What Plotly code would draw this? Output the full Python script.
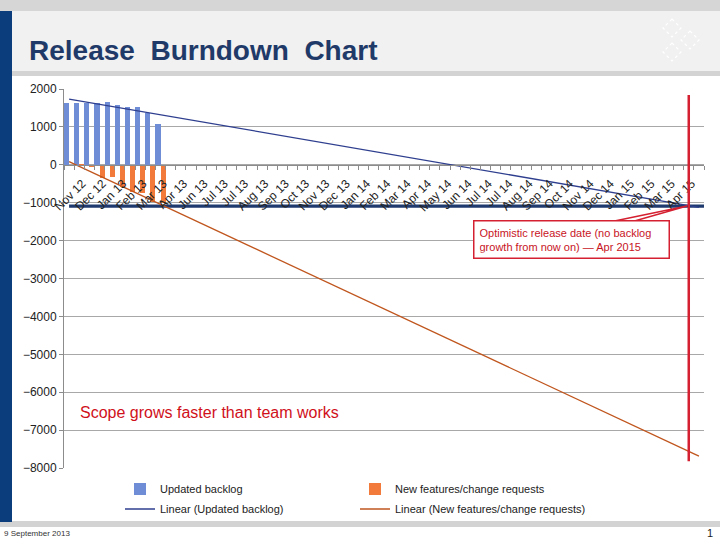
import numpy as np
import plotly.graph_objects as go

# ---------------- data ----------------
tick_labels = ["Nov 12", "Dec 12", "Jan 13", "Feb 13", "Mar 13", "Apr 13", "Jun 13",
               "Jul 13", "Jul 13", "Aug 13", "Sep 13", "Oct 13", "Nov 13", "Dec 13",
               "Jan 14", "Feb 14", "Mar 14", "Apr 14", "May 14", "Jun 14", "Jul 14",
               "Jul 14", "Aug 14", "Sep 14", "Oct 14", "Nov 14", "Dec 14", "Jan 15",
               "Feb 15", "Mar 15", "Apr 15"]
n_categories = 63
updated_backlog = [1626, 1626, 1640, 1640, 1650, 1565, 1530, 1530, 1380, 1080]
new_features = [0, -20, -60, -350, -330, -580, -710, -750, -980, -1020]
scope_level = -1090            # thick navy line (current scope)
marker_top, marker_bottom = 1840, -7820   # red release-date marker
y_ticks = list(range(-8000, 2001, 1000))

# ---------------- helpers ----------------
FONT = "Liberation Sans, Arial, sans-serif"
L, R, T, B = 64, 704, 89, 468
W, H = 720, 540


def px(x):
    return (x - L) / (R - L)


def py(y):
    return (B - y) / (B - T)


cats = np.arange(len(updated_backlog))
tick_pos = [1 + 2 * i for i in range(len(tick_labels))]
release_x = tick_pos[tick_labels.index("Apr 15")]

# linear trendlines (Excel "Linear" trendline = least squares fit, forecast forward)
trend_x = np.array([0, n_categories - 1])
b_slope, b_int = np.polyfit(cats, updated_backlog, 1)
n_slope, n_int = np.polyfit(cats, new_features, 1)

fig = go.Figure()
fig.add_trace(go.Bar(x=cats, y=updated_backlog, name="Updated backlog",
                     marker=dict(color="#6E8DD6", line=dict(width=0)), legend="legend"))
fig.add_trace(go.Bar(x=cats, y=new_features, name="New features/change requests",
                     marker=dict(color="#F27A3A", line=dict(width=0)), legend="legend"))
fig.add_trace(go.Scatter(x=[0, n_categories - 0.5], y=[scope_level, scope_level], mode="lines",
                         line=dict(color="#1F3A6E", width=3.2), showlegend=False,
                         hoverinfo="skip"))
fig.add_trace(go.Scatter(x=trend_x, y=b_int + b_slope * trend_x, mode="lines",
                         name="Linear (Updated backlog)",
                         line=dict(color="#2F3F8F", width=1.3), legend="legend2"))
fig.add_trace(go.Scatter(x=trend_x, y=n_int + n_slope * trend_x, mode="lines",
                         name="Linear (New features/change requests)",
                         line=dict(color="#C0561E", width=1.3), legend="legend2"))

shapes = [
    # page decoration
    dict(type="rect", xref="paper", yref="paper", x0=px(0), x1=px(720), y0=py(0), y1=py(11),
         fillcolor="#D6D6D6", line_width=0, layer="below"),
    dict(type="rect", xref="paper", yref="paper", x0=px(0), x1=px(720), y0=py(11), y1=py(71),
         fillcolor="#F1F1F1", line_width=0, layer="below"),
    dict(type="rect", xref="paper", yref="paper", x0=px(0), x1=px(720), y0=py(71), y1=py(76),
         fillcolor="#D3D3D3", line_width=0, layer="below"),
    dict(type="rect", xref="paper", yref="paper", x0=px(0), x1=px(720), y0=py(521), y1=py(527),
         fillcolor="#D3D3D3", line_width=0, layer="below"),
    dict(type="rect", xref="paper", yref="paper", x0=px(0), x1=px(12), y0=py(11), y1=py(522),
         fillcolor="#0B3C7C", line_width=0, layer="below"),
    # red release marker
    dict(type="line", xref="x", yref="y", x0=release_x, x1=release_x,
         y0=marker_top, y1=marker_bottom, line=dict(color="#D42030", width=2.5), layer="above"),
    # callout wedge
    dict(type="path", xref="paper", yref="paper",
         path=f"M{px(600)},{py(224)} L{px(687)},{py(206)} L{px(624)},{py(224)} Z",
         fillcolor="white", line=dict(color="#D42030", width=1.5), layer="above"),
]

# faint logo diamonds top right
for cx, cy in [(672, 28), (690, 40), (672, 52)]:
    s = 9
    shapes.append(dict(type="path", xref="paper", yref="paper",
                       path=f"M{px(cx)},{py(cy - s)} L{px(cx + s)},{py(cy)} L{px(cx)},{py(cy + s)} L{px(cx - s)},{py(cy)} Z",
                       line=dict(color="#FFFFFF", width=1.2, dash="dot"), layer="below"))

annotations = [
    dict(text="<b>Release  Burndown  Chart</b>", xref="paper", yref="paper",
         x=px(27), y=py(50), xanchor="left", yanchor="middle", showarrow=False,
         font=dict(family=FONT, size=28, color="#1F3A68")),
    dict(text="9 September 2013", xref="paper", yref="paper", x=px(2), y=py(533),
         xanchor="left", yanchor="middle", showarrow=False,
         font=dict(family=FONT, size=8, color="#333333")),
    dict(text="1", xref="paper", yref="paper", x=px(710), y=py(533),
         xanchor="center", yanchor="middle", showarrow=False,
         font=dict(family=FONT, size=11, color="#222222")),
    dict(text="Scope grows faster than team works", xref="paper", yref="paper",
         x=px(78), y=py(412), xanchor="left", yanchor="middle", showarrow=False,
         font=dict(family=FONT, size=16, color="#D0101A")),
    dict(text="Optimistic release date (no backlog<br>growth from now on) \u2014 Apr 2015",
         xref="paper", yref="paper", x=px(571), y=py(240), xanchor="center", yanchor="middle",
         showarrow=False, align="left", bgcolor="white", bordercolor="#D42030", borderwidth=1.5,
         borderpad=5, width=184,
         font=dict(family=FONT, size=11, color="#C8141E")),
]

fig.update_layout(
    width=W, height=H,
    margin=dict(l=L, r=W - R, t=T, b=H - B, pad=0),
    paper_bgcolor="white", plot_bgcolor="rgba(0,0,0,0)",
    barmode="group", bargap=0.0, bargroupgap=0.0,
    font=dict(family=FONT, size=11, color="#222222"),
    shapes=shapes, annotations=annotations,
    legend=dict(orientation="h", x=px(120), y=py(489), xanchor="left", yanchor="middle",
                entrywidth=190, entrywidthmode="pixels", bgcolor="rgba(0,0,0,0)",
                font=dict(family=FONT, size=11, color="#222222"), tracegroupgap=0),
    legend2=dict(orientation="h", x=px(120), y=py(509), xanchor="left", yanchor="middle",
                 entrywidth=190, entrywidthmode="pixels", bgcolor="rgba(0,0,0,0)",
                 font=dict(family=FONT, size=11, color="#222222"), tracegroupgap=0),
    xaxis=dict(range=[-0.5, n_categories - 0.5], anchor="free", position=0.8,
               tickmode="array", tickvals=tick_pos, ticktext=tick_labels, tickangle=-45,
               ticks="", showgrid=False, zeroline=False, showline=True,
               linecolor="#8C8C8C", linewidth=1, ticklabelshift=3, ticklabelstandoff=6,
               minor=dict(tickmode="array", tickvals=[k - 0.5 for k in range(n_categories + 1)],
                          ticks="outside", ticklen=4, tickcolor="#8C8C8C", showgrid=False),
               tickfont=dict(family=FONT, size=12, color="#222222")),
    yaxis=dict(range=[-8000, 2000], domain=[0, 1], tickmode="array", tickvals=y_ticks,
               showgrid=True, gridcolor="#A8A8A8", gridwidth=1, zeroline=False,
               showline=True, linecolor="#8C8C8C", ticks="outside", ticklen=4,
               tickcolor="#8C8C8C", tickfont=dict(family=FONT, size=12, color="#222222")),
)

fig.write_html("out.html")
